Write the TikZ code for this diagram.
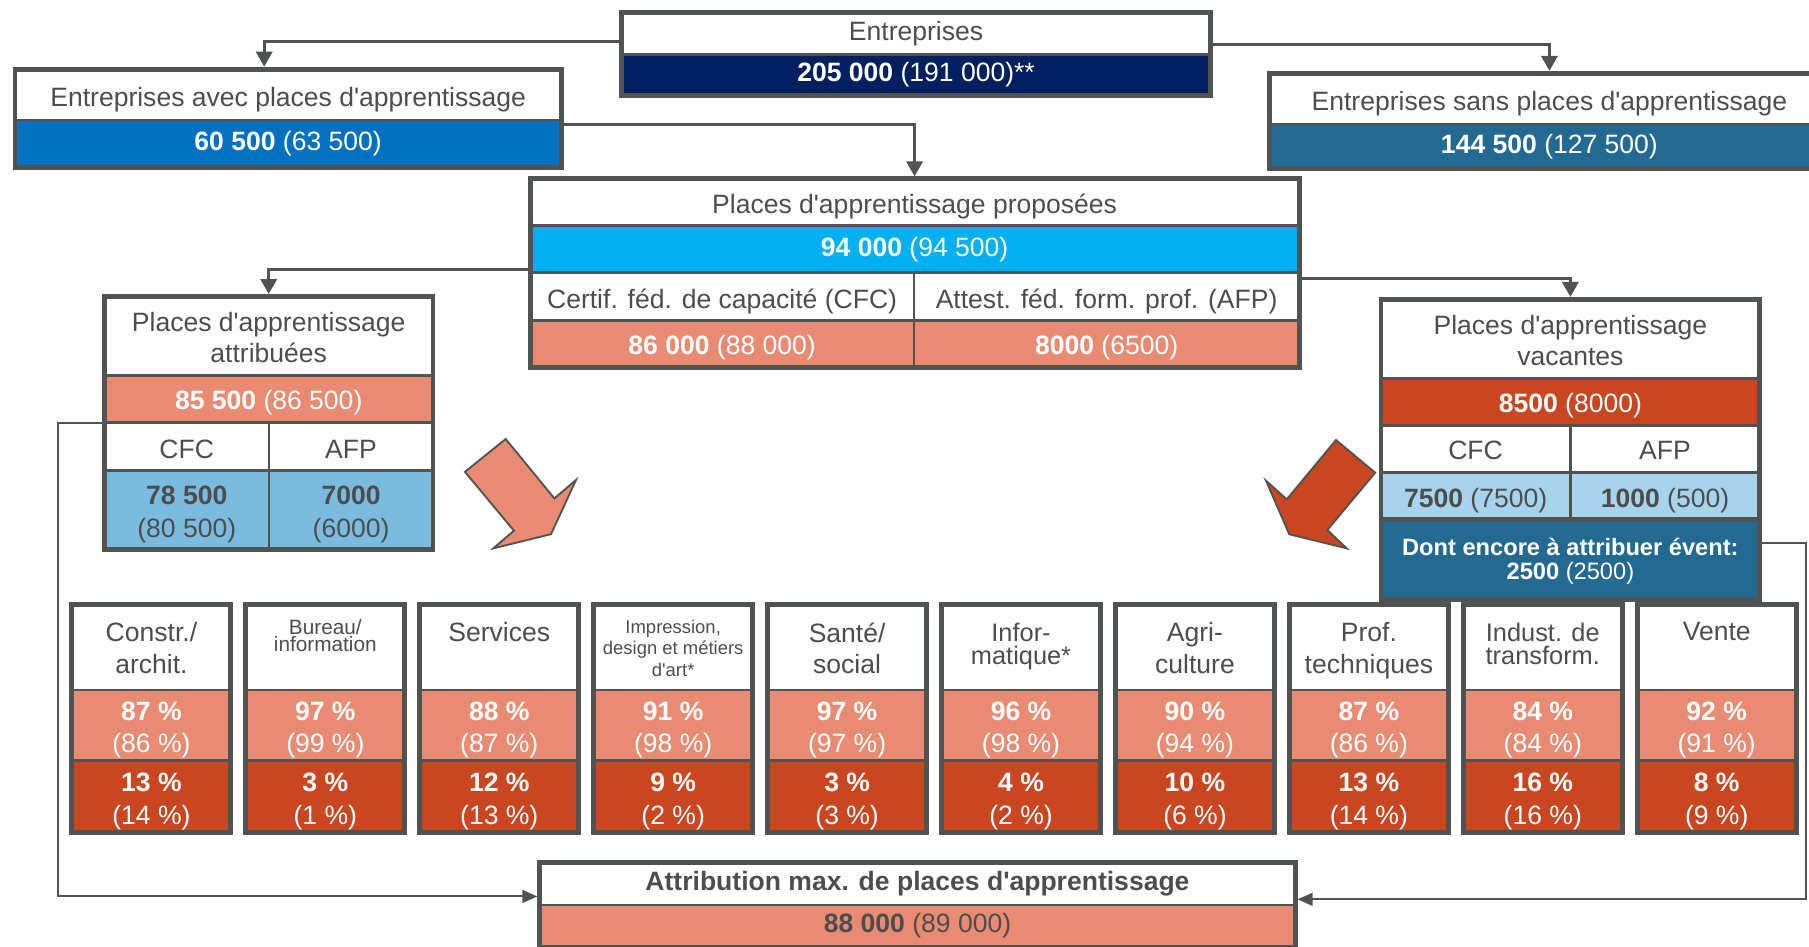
\documentclass[tikz,border=0pt]{standalone}
\usepackage{fontspec}
\setmainfont{Liberation Sans}[Ligatures=TeXOff]
\usetikzlibrary{arrows.meta,fit}

\definecolor{linegray}{HTML}{4F5451}
\definecolor{txtgray}{HTML}{4D4D4D}
\definecolor{navy}{HTML}{002060}
\definecolor{midblue}{HTML}{0070C0}
\definecolor{steel}{HTML}{236A93}
\definecolor{cyanblue}{HTML}{00B0F0}
\definecolor{salmon}{HTML}{E88B72}
\definecolor{rust}{HTML}{C94621}
\definecolor{skyblue}{HTML}{7BBBE0}
\definecolor{paleblue}{HTML}{A6D4EC}

\newcommand{\cellfont}{\fontsize{23}{27}\selectfont}
\newcommand{\valfont}{\fontsize{23}{28}\selectfont}
\newcommand{\dontfont}{\fontsize{20.5}{21}\selectfont}
\newcommand{\smallfont}{\fontsize{18}{15}\selectfont}
\newcommand{\tinyfont}{\fontsize{16}{18.5}\selectfont}
\newcommand{\tightfont}{\fontsize{22}{20}\selectfont}
% invisible strut that pushes the first line down
\newcommand{\lift}[1]{\rule{0pt}{#1}}

\begin{document}
\begin{tikzpicture}[x=1pt, y=-1pt,
    cell/.style={draw=linegray, line width=2.3pt, inner sep=0pt, outer sep=0pt,
      anchor=north west, align=center, text=txtgray, font=\cellfont},
    drop/.style={execute at begin node={\rule{0pt}{#1}}},
    outline/.style={draw=linegray, line width=4.3pt, inner sep=0pt},
    link/.style={draw=linegray, line width=2.6pt, -{Triangle[length=13pt,width=14pt]}},
    backlink/.style={draw=linegray, line width=1.8pt, -{Triangle[length=13pt,width=11pt]}},
    bigarrow/.style={draw=linegray, line width=1.6pt, line join=miter},
    sectitle/.style={anchor=north, inner sep=0pt, align=center, text=txtgray}]
    \useasboundingbox (0,0) rectangle (1568,820);

    % Entreprises
    \node[cell, minimum width=510pt, minimum height=36pt] (ent-t) at (539,11) {Entreprises};
    \node[cell, fill=navy, text=white, minimum width=510pt, minimum height=36pt] (ent-v) at (539,47) {\textbf{205 000} (191 000)**};
    \node[outline, fit=(ent-t)(ent-v)] (ent) {};

    % Entreprises avec / sans places
    \node[cell, drop=24.8pt, minimum width=473.5pt, minimum height=44pt] (avec-t) at (13,60) {Entreprises avec places d'apprentissage};
    \node[cell, fill=midblue, text=white, minimum width=473.5pt, minimum height=41pt] (avec-v) at (13,104) {\textbf{60 500} (63 500)};
    \node[outline, fit=(avec-t)(avec-v)] (avec) {};

    \node[cell, drop=24.8pt, minimum width=485pt, minimum height=43.9pt] (sans-t) at (1100.5,63.6) {Entreprises sans places d'apprentissage};
    \node[cell, fill=steel, text=white, minimum width=485pt, minimum height=38.5pt] (sans-v) at (1100.5,107.5) {\textbf{144 500} (127 500)};
    \node[outline, fit=(sans-t)(sans-v)] (sans) {};

    % Places proposees
    \node[cell, drop=24.8pt, minimum width=666.5pt, minimum height=40.6pt] (prop-t) at (459.5,155) {Places d'apprentissage proposées};
    \node[cell, fill=cyanblue, text=white, minimum width=666.5pt, minimum height=40.8pt] (prop-v) at (459.5,195.6) {\textbf{94 000} (94 500)};
    \node[cell, drop=24.8pt, minimum width=332.8pt, minimum height=41.6pt] (prop-cfc) at (459.5,236.4) {Certif. féd. de capacité (CFC)};
    \node[cell, drop=24.8pt, minimum width=333.7pt, minimum height=41.6pt] (prop-afp) at (792.3,236.4) {Attest. féd. form. prof. (AFP)};
    \node[cell, drop=22.8pt, fill=salmon, text=white, minimum width=332.8pt, minimum height=40.5pt] (prop-cfcv) at (459.5,278) {\textbf{86 000} (88 000)};
    \node[cell, drop=22.8pt, fill=salmon, text=white, minimum width=333.7pt, minimum height=40.5pt] (prop-afpv) at (792.3,278) {\textbf{8000} (6500)};
    \node[outline, fit=(prop-t)(prop-afpv)] (prop) {};

    % Places attribuees
    \node[cell, minimum width=284.8pt, minimum height=68.6pt] (attr-t) at (90.5,257) {\lift{18.8pt}Places d'apprentissage\\attribuées};
    \node[cell, drop=22.8pt, fill=salmon, text=white, minimum width=284.8pt, minimum height=40.8pt] (attr-v) at (90.5,325.6) {\textbf{85 500} (86 500)};
    \node[cell, drop=20.5pt, minimum width=142.7pt, minimum height=41.6pt] (attr-cfc) at (90.5,366.4) {CFC};
    \node[cell, drop=20.5pt, minimum width=142.1pt, minimum height=41.6pt] (attr-afp) at (233.2,366.4) {AFP};
    \node[cell, fill=skyblue, font=\valfont, minimum width=142.7pt, minimum height=68.5pt] (attr-cfcv) at (90.5,408) {\lift{23.5pt}\textbf{78 500}\\(80 500)};
    \node[cell, fill=skyblue, font=\valfont, minimum width=142.1pt, minimum height=68.5pt] (attr-afpv) at (233.2,408) {\lift{23.5pt}\textbf{7000}\\(6000)};
    \node[outline, fit=(attr-t)(attr-afpv)] (attr) {};

    % Places vacantes
    \node[cell, minimum width=328.3pt, minimum height=68.5pt] (vac-t) at (1197,259.5) {\lift{19.8pt}Places d'apprentissage\\vacantes};
    \node[cell, drop=22.8pt, fill=rust, text=white, minimum width=328.3pt, minimum height=41pt] (vac-v) at (1197,328) {\textbf{8500} (8000)};
    \node[cell, drop=18.5pt, minimum width=164pt, minimum height=40.7pt] (vac-cfc) at (1197,369) {CFC};
    \node[cell, drop=18.5pt, minimum width=164.3pt, minimum height=40.7pt] (vac-afp) at (1361,369) {AFP};
    \node[cell, drop=24.8pt, fill=paleblue, minimum width=164pt, minimum height=40.5pt] (vac-cfcv) at (1197,409.7) {\textbf{7500} (7500)};
    \node[cell, drop=24.8pt, fill=paleblue, minimum width=164.3pt, minimum height=40.5pt] (vac-afpv) at (1361,409.7) {\textbf{1000} (500)};
    \node[cell, line width=4.3pt, fill=steel, text=white, font=\dontfont, minimum width=328.3pt, minimum height=69.8pt] (vac-d) at (1197,450.2) {\lift{18.2pt}\textbf{Dont encore à attribuer évent:}\\\textbf{2500} (2500)};
    \node[outline, fit=(vac-t)(vac-d)] (vac) {};

    % Block arrows
    \draw[bigarrow, fill=salmon] (403,409) -- (438.3,380.5) -- (480.5,432) -- (499.3,416) -- (477.6,463) -- (427.6,475.3) -- (445.5,460) -- cycle;
    \draw[bigarrow, fill=rust] (1158,381.4) -- (1192,409.7) -- (1150.5,459.4) -- (1167.3,475.3) -- (1117.5,463.1) -- (1097.3,416.6) -- (1115.3,432.8) -- cycle;

    % Sectors
    \foreach \i/\ttl/\tf/\ty/\pa/\pb/\ra/\rb in {
        0/{Constr./\\archit.}/\cellfont/539.5/87/86/13/14,
        1/{Bureau/\\information}/\smallfont/536.6/97/99/3/1,
        2/{Services}/\cellfont/539.5/88/87/12/13,
        3/{Impression,\\design et métiers\\d'art*}/\tinyfont/537.3/91/98/9/2,
        4/{Santé/\\social}/\cellfont/539.5/97/97/3/3,
        5/{Infor-\\matique*}/\tightfont/540/96/98/4/2,
        6/{Agri-\\culture}/\cellfont/539.5/90/94/10/6,
        7/{Prof.\\techniques}/\cellfont/539.5/87/86/13/14,
        8/{Indust. de\\transform.}/\tightfont/540/84/84/16/16,
        9/{Vente}/\cellfont/539.5/92/91/8/9}
    {
        \pgfmathsetmacro{\xa}{62.3+150.75*\i}
        \node[cell, minimum width=137.9pt, minimum height=74.3pt] (sec\i-t) at (\xa,523.7) {};
        \node[sectitle, font=\tf] (sec\i-l) at (\xa+68.95,\ty) {\ttl};
        \node[cell, fill=salmon, text=white, font=\valfont, minimum width=137.9pt, minimum height=61.3pt] (sec\i-a) at (\xa,598) {\lift{24.7pt}\textbf{\pa{} \%}\\(\pb{} \%)};
        \node[cell, fill=rust, text=white, font=\valfont, minimum width=137.9pt, minimum height=62pt] (sec\i-b) at (\xa,659.3) {\lift{24.7pt}\textbf{\ra{} \%}\\(\rb{} \%)};
        \node[outline, fit=(sec\i-t)(sec\i-b)] (sec\i) {};
    }

    % Attribution max.
    \node[cell, minimum width=654.5pt, minimum height=36.8pt] (maxi-t) at (468,747.6) {\textbf{Attribution max. de places d'apprentissage}};
    \node[cell, fill=salmon, minimum width=654.5pt, minimum height=36.6pt] (maxi-v) at (468,784.4) {\textbf{88 000} (89 000)};
    \node[outline, fit=(maxi-t)(maxi-v)] (maxi) {};

    % Connectors
    \draw[link] (ent.west |- 0,36) -| (229,0 |- avec.north);
    \draw[link] (ent.east |- 0,38.4) -| (sans.north);
    \draw[link] (avec.east |- 0,107.8) -| (prop.north);
    \draw[link] (prop.west |- 0,234) -| (attr.north);
    \draw[link] (prop.east |- 0,241) -| (vac.north);
    \draw[backlink] (attr.west |- 0,367) -- (50,367) -- (50,777) -- (maxi.west |- 0,777);
    \draw[backlink] (vac.east |- 0,471) -- (1565,471) -- (1565,779.5) -- (maxi.east |- 0,779.5);
\end{tikzpicture}
\end{document}
